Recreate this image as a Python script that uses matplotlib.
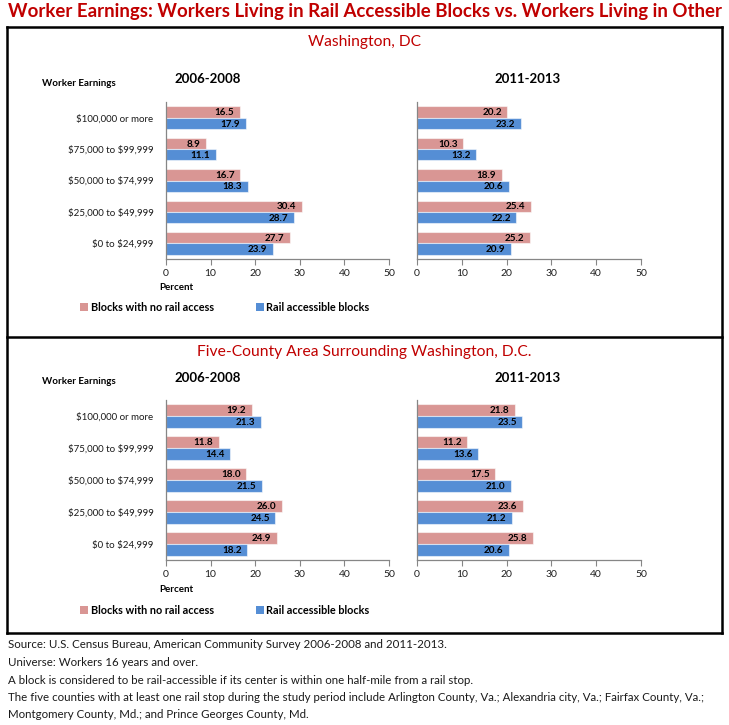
import matplotlib
matplotlib.use('Agg')
import matplotlib.pyplot as plt
from matplotlib.patches import Rectangle
from matplotlib.lines import Line2D

# ---------------- data ----------------
categories = ["$100,000 or more", "$75,000 to $99,999", "$50,000 to $74,999",
              "$25,000 to $49,999", "$0 to $24,999"]
periods = ["2006-2008", "2011-2013"]
series_names = ["Blocks with no rail access", "Rail accessible blocks"]

dc_no_rail_0608 = [16.5, 8.9, 16.7, 30.4, 27.7]
dc_rail_0608 = [17.9, 11.1, 18.3, 28.7, 23.9]
dc_no_rail_1113 = [20.2, 10.3, 18.9, 25.4, 25.2]
dc_rail_1113 = [23.2, 13.2, 20.6, 22.2, 20.9]

fc_no_rail_0608 = [19.2, 11.8, 18.0, 26.0, 24.9]
fc_rail_0608 = [21.3, 14.4, 21.5, 24.5, 18.2]
fc_no_rail_1113 = [21.8, 11.2, 17.5, 23.6, 25.8]
fc_rail_1113 = [23.5, 13.6, 21.0, 21.2, 20.6]

x_ticks = [0, 10, 20, 30, 40, 50]

title = "Worker Earnings: Workers Living in Rail Accessible Blocks vs. Workers Living in Other"
panel_titles = ["Washington, DC", "Five-County Area Surrounding Washington, D.C."]
footnotes = [
    "Source: U.S. Census Bureau, American Community Survey 2006-2008 and 2011-2013.",
    "Universe: Workers 16 years and over.",
    "A block is considered to be rail-accessible if its center is within one half-mile from a rail stop.",
    "The five counties with at least one rail stop during the study period include Arlington County, Va.; Alexandria city, Va.; Fairfax County, Va.;",
    "Montgomery County, Md.; and Prince Georges County, Md.",
]

# ---------------- style ----------------
W, H = 729, 725
PINK = '#D99694'
BLUE = '#558ED5'
RED = '#C00000'
GRAY = '#868686'
FONT = 'Lato'
plt.rcParams['font.family'] = [FONT, 'DejaVu Sans']

fig = plt.figure(figsize=(W / 100, H / 100), dpi=100)
fig.patch.set_facecolor('white')
fig.canvas.draw()
R = fig.canvas.get_renderer()


def fx(x):
    return x / W


def fy(y):
    return 1 - y / H


def esc(s):
    return s.replace('$', r'\$')


def ftext(x, y, s, width=None, size=10, **kw):
    t = fig.text(fx(x), fy(y), s, fontsize=size, **kw)
    if width is not None:
        bb = t.get_window_extent(renderer=R)
        t.set_fontsize(size * width / bb.width)
    return t


def fitsize(s, width, **kw):
    tmp = fig.text(0, 0, s, fontsize=10, **kw)
    size = 10 * width / tmp.get_window_extent(renderer=R).width
    tmp.remove()
    return size


# title & boxes
ftext(365, 12, title, width=714, size=14, color=RED, weight='bold',
      ha='center', va='center')
lw = 1.8
BL, BR = 7, 722
for (x0, y0, x1, y1) in [(BL, 27, BR, 27), (BL, 337, BR, 337), (BL, 633, BR, 633),
                         (BL, 27, BL, 633), (BR, 27, BR, 633)]:
    fig.add_artist(Line2D([fx(x0), fx(x1)], [fy(y0), fy(y1)], color='black', lw=lw,
                          solid_capstyle='projecting'))

sub_size = fitsize(panel_titles[1], 335)
ftext(365, 42, panel_titles[0], size=sub_size, color=RED, ha='center', va='center')
ftext(364, 352, panel_titles[1], size=sub_size, color=RED, ha='center', va='center')

# layout per panel
panels = [
    dict(top=102, bottom=259, data=[(dc_no_rail_0608, dc_rail_0608), (dc_no_rail_1113, dc_rail_1113)],
         yt=79, we=84, pc=288, lg=307),
    dict(top=400, bottom=560, data=[(fc_no_rail_0608, fc_rail_0608), (fc_no_rail_1113, fc_rail_1113)],
         yt=378, we=382, pc=589, lg=610),
]
lefts = [(166, 389), (417, 641)]

cat_size = fitsize(esc(categories[0]), 78)
val_size = fitsize("16.5", 19.5, weight='bold')
tick_size = fitsize("50", 12)
year_size = fitsize(periods[0], 67, weight='bold')

bh = 0.36
for p in panels:
    for j, (l, r) in enumerate(lefts):
        ax = fig.add_axes([fx(l), fy(p['bottom']), (r - l) / W, (p['bottom'] - p['top']) / H])
        no_rail, rail = p['data'][j]
        ypos = list(range(len(categories)))
        b1 = ax.barh([y - bh / 2 for y in ypos], no_rail, height=bh, color=PINK,
                     edgecolor=(1, 1, 1, 0.55), linewidth=0.8, label=series_names[0])
        b2 = ax.barh([y + bh / 2 for y in ypos], rail, height=bh, color=BLUE,
                     edgecolor=(1, 1, 1, 0.55), linewidth=0.8, label=series_names[1])
        for bars, vals in ((b1, no_rail), (b2, rail)):
            for rect, v in zip(bars, vals):
                ax.annotate(f"{v:.1f}", (v, rect.get_y() + rect.get_height() / 2),
                            xytext=(-4, -0.5), textcoords='offset points',
                            ha='right', va='center', fontsize=val_size,
                            weight='bold', color='black')
        ax.set_xlim(0, 50)
        ax.set_ylim(len(categories) - 0.5, -0.5)
        ax.set_xticks(x_ticks)
        ax.set_xticklabels([str(t) for t in x_ticks])
        ax.tick_params(axis='x', direction='out', length=4, width=0.8, color=GRAY,
                       labelsize=tick_size, labelcolor='#1f1f1f', pad=3)
        ax.set_yticks(ypos)
        if j == 0:
            ax.set_yticklabels([esc(c) for c in categories])
            ax.tick_params(axis='y', length=0, labelsize=cat_size, labelcolor='#1a1a1a', pad=9)
        else:
            ax.set_yticklabels([])
            ax.tick_params(axis='y', length=0)
        for s in ('top', 'right'):
            ax.spines[s].set_visible(False)
        for s in ('left', 'bottom'):
            ax.spines[s].set_color(GRAY)
            ax.spines[s].set_linewidth(0.9)
        ax.set_facecolor('none')
        # year title
        cx = 208 if j == 0 else 528
        ftext(cx, p['yt'], periods[j], size=year_size, weight='bold',
              ha='center', va='center', color='black')
    ftext(42, p['we'], "Worker Earnings", width=73, size=8, weight='bold',
          ha='left', va='center', color='black')
    ftext(176, p['pc'], "Percent", width=34, size=8, weight='bold',
          ha='center', va='center', color='black')
    # legend
    for (sx, tx, name, col, wd) in [(80, 91, series_names[0], PINK, 123),
                                    (256, 266, series_names[1], BLUE, 103)]:
        fig.add_artist(Rectangle((fx(sx), fy(p['lg'] + 4)), 8 / W, 8 / H,
                                 facecolor=col, edgecolor='none'))
        ftext(tx, p['lg'], name, width=wd, size=9, weight='bold',
              ha='left', va='center', color='black')

# footnotes
fn_size = fitsize(footnotes[3], 697)
for i, line in enumerate(footnotes):
    ftext(8, 645 + i * 17.5, line, size=fn_size, ha='left', va='center', color='#1a1a1a')

fig.savefig('out.png', dpi=100, facecolor='white')
